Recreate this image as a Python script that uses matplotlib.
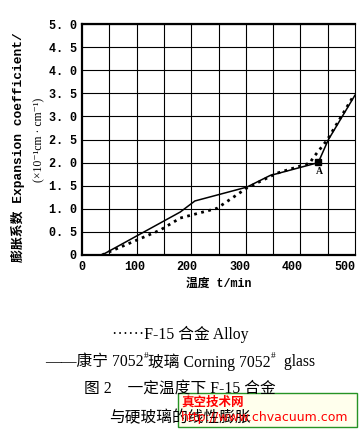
import numpy as np
import matplotlib.pyplot as plt
from matplotlib.patches import Rectangle
from matplotlib.transforms import offset_copy

# Corning 7052# glass (solid line)
glass_t = [38, 187, 215, 314, 358, 450, 469, 520]
glass_e = [0.0, 0.93, 1.17, 1.47, 1.72, 2.0, 2.49, 3.46]

# F-15 alloy (dotted line)
alloy_t = [38, 149, 187, 257, 314, 371, 434, 440, 467, 516]
alloy_e = [0.0, 0.54, 0.8, 1.01, 1.45, 1.77, 1.99, 2.1, 2.49, 3.42]

point_a = (450, 2.02)

xticks = [0, 100, 200, 300, 400, 500]
yticks = [0, 0.5, 1.0, 1.5, 2.0, 2.5, 3.0, 3.5, 4.0, 4.5, 5.0]
ylabels = ["0", "0. 5", "1. 0", "1. 5", "2. 0", "2. 5", "3. 0", "3. 5", "4. 0", "4. 5", "5. 0"]

mono = ['Liberation Mono', 'Noto Sans CJK SC']
serif = ['Liberation Serif', 'Noto Sans CJK SC', 'DejaVu Serif']

fig = plt.figure(figsize=(3.6, 4.3), dpi=100)
ax = fig.add_axes([0.228, 0.407, 0.758, 0.537])

ax.plot(glass_t, glass_e, color='black', lw=1.1)
ax.plot(alloy_t, alloy_e, color='black', lw=2.0, ls=(0, (1, 1.6)))
ax.plot(*point_a, marker='s', color='black', ms=4)
ax.text(point_a[0] + 3, point_a[1] - 0.12, "A", fontsize=7, fontweight='bold',
        family=serif, ha='center', va='top')

ax.set_xlim(0, 520)
ax.set_ylim(0, 5.0)
ax.set_xticks(xticks)
ax.set_xticklabels([str(v) for v in xticks], family=mono, fontweight='bold', fontsize=8.5)
ax.set_yticks(yticks)
ax.set_yticklabels(ylabels, family=mono, fontweight='bold', fontsize=8.5)
ax.set_xticks(np.arange(52, 520, 52), minor=True)
ax.tick_params(which='both', length=0, pad=4)
ax.grid(True, which='minor', axis='x', color='black', lw=0.8)
ax.grid(True, which='major', axis='y', color='black', lw=0.8)
for s in ax.spines.values():
    s.set_linewidth(1.6)
ax.spines['right'].set_linewidth(0.8)

ax.set_xlabel("温度 t/min", family=mono, fontweight='bold', fontsize=8.5, labelpad=4)

fig.text(0.05, 0.658, "膨胀系数 Expansion coefficient/", rotation=90, ha='center', va='center',
         family=mono, fontweight='bold', fontsize=9.3)
fig.text(0.108, 0.674, "(×10⁻¹cm · cm⁻¹)", rotation=90, ha='center', va='center',
         family=['Liberation Serif', 'DejaVu Serif'], fontsize=8.5)


def text_run(y, pieces, size):
    # lay out (text, raised) pieces left to right, centred on the figure
    renderer = fig.canvas.get_renderer()
    arts = []
    for s, sup in pieces:
        t = fig.text(0, y, s, family=serif, fontsize=size * (0.6 if sup else 1),
                     va='center', ha='left')
        arts.append((t, sup))
    widths = [t.get_window_extent(renderer).width for t, _ in arts]
    x = fig.bbox.width / 2 - sum(widths) / 2
    for (t, sup), w in zip(arts, widths):
        t.set_transform(offset_copy(fig.transFigure, fig=fig, x=x / fig.dpi * 72,
                                    y=4.5 if sup else 0, units='points'))
        t.set_position((0, y))
        x += w


cap = 11.3
fig.text(0.5, 0.223, "······F-15 合金 Alloy", ha='center', va='center', family=serif, fontsize=cap)
text_run(0.158, [("——康宁 7052", False), ("#", True), ("玻璃 Corning 7052", False),
                 ("#", True), ("  glass", False)], cap)
fig.text(0.5, 0.093, "图 2　一定温度下 F-15 合金", ha='center', va='center', family=serif, fontsize=cap)
fig.text(0.5, 0.028, "与硬玻璃的线性膨胀", ha='center', va='center', family=serif, fontsize=cap)

# watermark box
fig.patches.append(Rectangle((178 / 360, 3 / 430), 179 / 360, 34 / 430, transform=fig.transFigure,
                             facecolor='#ffffea', edgecolor='#008000', lw=1, alpha=0.85))
fig.text(181 / 360, 1 - 402 / 430, "真空技术网", color='red', fontweight='bold', fontsize=9,
         family=['Noto Sans CJK SC'], va='center', ha='left')
fig.text(181 / 360, 1 - 417 / 430, "http://www.chvacuum.com", color='red', fontsize=9,
         family=['DejaVu Sans'], va='center', ha='left')

fig.savefig("out.png", dpi=100)
